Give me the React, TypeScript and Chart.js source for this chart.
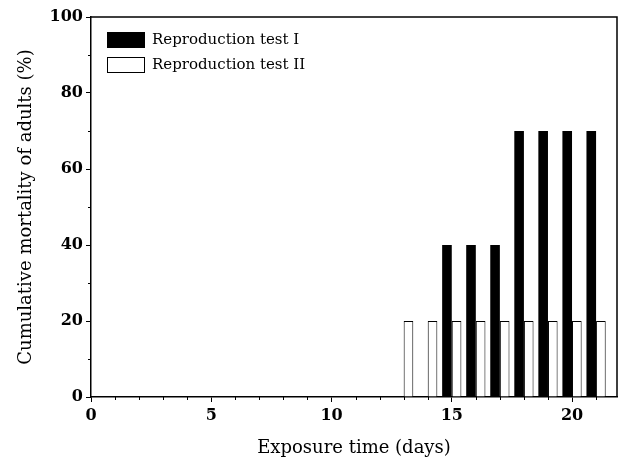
import React, { useEffect, useRef } from "react";
import { Chart, registerables } from "chart.js";

Chart.register(...registerables);

const days = [13, 14, 15, 16, 17, 18, 19, 20, 21];
const testI = [0, 0, 40, 40, 40, 70, 70, 70, 70];
const testII = [20, 20, 20, 20, 20, 20, 20, 20, 20];
const seriesNames = ["Reproduction test I", "Reproduction test II"];
const xTickLabels = [0, 5, 10, 15, 20];
const yTickLabels = [0, 20, 40, 60, 80, 100];
const xTitle = "Exposure time (days)";
const yTitle = "Cumulative mortality of adults (%)";

const FONT = "'DejaVu Serif', serif";

const framePlugin = {
  id: "frame",
  afterDraw(chart: any) {
    const { ctx, chartArea } = chart;
    ctx.save();
    ctx.strokeStyle = "#000";
    ctx.lineWidth = 1.5;
    ctx.beginPath();
    ctx.moveTo(chartArea.left, chartArea.top);
    ctx.lineTo(chartArea.right, chartArea.top);
    ctx.lineTo(chartArea.right, chartArea.bottom);
    ctx.stroke();
    // minor ticks
    ctx.lineWidth = 1;
    const xs = chart.scales.x;
    const ys = chart.scales.y;
    xs.ticks.forEach((t: any) => {
      if (!xTickLabels.includes(t.value)) {
        const px = Math.round(xs.getPixelForValue(t.value)) + 0.5;
        ctx.beginPath();
        ctx.moveTo(px, chartArea.bottom);
        ctx.lineTo(px, chartArea.bottom + 3);
        ctx.stroke();
      }
    });
    ys.ticks.forEach((t: any) => {
      if (!yTickLabels.includes(t.value)) {
        const py = Math.round(ys.getPixelForValue(t.value)) + 0.5;
        ctx.beginPath();
        ctx.moveTo(chartArea.left, py);
        ctx.lineTo(chartArea.left - 3, py);
        ctx.stroke();
      }
    });
    ctx.restore();
  },
};

const legendPlugin = {
  id: "insideLegend",
  afterDraw(chart: any) {
    const { ctx, chartArea } = chart;
    const x0 = chartArea.left + 16;
    const y0 = chartArea.top + 15;
    const rowH = 25;
    ctx.save();
    chart.data.datasets.forEach((ds: any, i: number) => {
      const y = y0 + i * rowH;
      ctx.fillStyle = ds.backgroundColor;
      ctx.fillRect(x0, y, 38, 16);
      ctx.strokeStyle = "#000";
      ctx.lineWidth = 1;
      ctx.strokeRect(x0 + 0.5, y + 0.5, 37, 15);
      ctx.fillStyle = "#000";
      ctx.font = `15px ${FONT}`;
      ctx.textBaseline = "middle";
      ctx.textAlign = "left";
      ctx.fillText(ds.label, x0 + 45, y + 8.5);
    });
    ctx.restore();
  },
};

export default function App() {
  const ref = useRef<HTMLCanvasElement | null>(null);
  useEffect(() => {
    if (!ref.current) return;
    const chart = new Chart(ref.current, {
      type: "bar",
      data: {
        datasets: [
          {
            label: seriesNames[0],
            data: days.map((d, i) => ({ x: d, y: testI[i] })),
            backgroundColor: "#000000",
            borderColor: "#000000",
            borderWidth: 0,
          },
          {
            label: seriesNames[1],
            data: days.map((d, i) => ({ x: d, y: testII[i] })),
            backgroundColor: "#ffffff",
            borderColor: "#000000",
            borderWidth: 1,
          },
        ],
      },
      options: {
        animation: false,
        responsive: false,
        maintainAspectRatio: false,
        layout: { padding: { top: 17, right: 4, left: 0, bottom: 0 } },
        plugins: { legend: { display: false }, tooltip: { enabled: false } },
        datasets: { bar: { categoryPercentage: 0.8, barPercentage: 1.0 } },
        scales: {
          x: {
            type: "linear",
            min: 0,
            max: 21.87,
            offset: false,
            afterFit: (s: any) => {
              s.height = 62;
            },
            ticks: {
              stepSize: 1,
              includeBounds: false,
              autoSkip: false,
              maxRotation: 0,
              padding: 4,
              color: "#000",
              font: { family: FONT, size: 16, weight: "bold" },
              callback: (v: any) => (xTickLabels.includes(v) ? String(v) : ""),
            },
            grid: {
              display: true,
              drawOnChartArea: false,
              offset: false,
              tickLength: 5,
              tickWidth: 1,
              tickColor: (c: any) =>
                c.tick && xTickLabels.includes(c.tick.value) ? "#000" : "rgba(0,0,0,0)",
            },
            border: { color: "#000", width: 1.5 },
            title: {
              display: true,
              text: xTitle,
              color: "#000",
              font: { family: FONT, size: 18 },
              padding: { top: 0, bottom: 0 },
            },
          },
          y: {
            type: "linear",
            min: 0,
            max: 100,
            afterFit: (s: any) => {
              s.width = 91;
            },
            ticks: {
              stepSize: 10,
              autoSkip: false,
              padding: 3,
              color: "#000",
              font: { family: FONT, size: 16, weight: "bold" },
              callback: (v: any) => (yTickLabels.includes(v) ? String(v) : ""),
            },
            grid: {
              display: true,
              drawOnChartArea: false,
              tickLength: 5,
              tickWidth: 1,
              tickColor: (c: any) =>
                c.tick && yTickLabels.includes(c.tick.value) ? "#000" : "rgba(0,0,0,0)",
            },
            border: { color: "#000", width: 1.5 },
            title: {
              display: true,
              text: yTitle,
              color: "#000",
              font: { family: FONT, size: 18 },
              padding: { top: 16, bottom: 16 },
            },
          },
        },
      },
      plugins: [framePlugin, legendPlugin],
    } as any);
    return () => chart.destroy();
  }, []);
  return (
    <div style={{ position: "fixed", left: 0, top: 0, width: 621, height: 459 }}>
      <canvas ref={ref} width={621} height={459} style={{ display: "block" }} />
    </div>
  );
}
